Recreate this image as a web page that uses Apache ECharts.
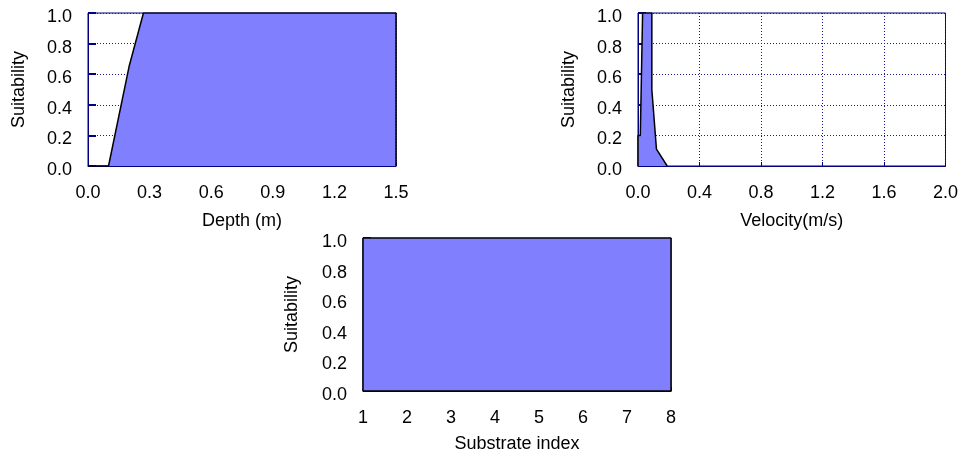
<!DOCTYPE html>
<html>
<head>
<meta charset="utf-8">
<script src="https://cdn.jsdelivr.net/npm/echarts@6/dist/echarts.min.js"></script>
<style>html,body{margin:0;padding:0;background:#fff}#c{width:961px;height:457px}</style>
</head>
<body>
<div id="c"></div>
<script>
// Depth suitability curve
const depthX = [0, 0.1, 0.2, 0.27, 1.5, 1.5];
const depthY = [0, 0, 0.65, 1, 1, 0];
// Velocity suitability curve
const velX = [0, 0, 0.015, 0.03, 0.09, 0.09, 0.12, 0.19];
const velY = [0, 0.2, 0.2, 1, 1, 0.5, 0.11, 0];
// Substrate suitability curve
const subX = [1, 1, 8, 8, 1];
const subY = [0, 1, 1, 0, 0];

const axisTitles = ['Depth (m)', 'Velocity(m/s)', 'Substrate index'];
const yTitle = 'Suitability';

const FONT = "'Liberation Sans', Arial, sans-serif";
const FS = 18;
const NAVY = '#000080';
const GRIDC = '#1a1a9a';
const FILL = '#8080FF';

function pairs(xs, ys) { return xs.map((x, i) => [x, ys[i]]); }

const grids = [
  {left: 88, top: 13, width: 308, height: 153},
  {left: 638, top: 13, width: 308, height: 153},
  {left: 363, top: 238, width: 308, height: 153}
];
const xRanges = [
  {min: 0, max: 1.5, interval: 0.3, dec: 1},
  {min: 0, max: 2, interval: 0.4, dec: 1},
  {min: 1, max: 8, interval: 1, dec: 0}
];

const chart = echarts.init(document.getElementById('c'), null, {renderer: 'canvas'});
const option = {
  backgroundColor: '#fff',
  animation: false,
  grid: grids.map(g => Object.assign({show: true, borderColor: NAVY, borderWidth: 1, backgroundColor: 'transparent'}, g)),
  xAxis: xRanges.map((r, i) => ({
    type: 'value', gridIndex: i, min: r.min, max: r.max, interval: r.interval,
    name: axisTitles[i], nameLocation: 'middle', nameGap: i === 2 ? 44 : 46,
    nameTextStyle: {color: '#000', fontFamily: FONT, fontSize: FS},
    axisLine: {show: true, lineStyle: {color: NAVY, width: 1}},
    axisTick: {show: true, inside: true, length: 4, lineStyle: {color: NAVY}},
    axisLabel: {color: '#000', fontFamily: FONT, fontSize: FS, margin: 18,
      formatter: v => v.toFixed(r.dec)},
    splitLine: {show: i !== 2, lineStyle: {color: GRIDC, type: [1, 2], width: 1}}
  })),
  yAxis: [0, 1, 2].map(i => ({
    type: 'value', gridIndex: i, min: 0, max: 1, interval: 0.2,
    name: yTitle, nameLocation: 'middle', nameGap: i === 2 ? 62 : 60,
    nameTextStyle: {color: '#000', fontFamily: FONT, fontSize: FS},
    axisLine: {show: true, lineStyle: {color: NAVY, width: 1}},
    axisTick: {show: true, inside: true, length: 8, lineStyle: {color: NAVY, width: 2}},
    axisLabel: {color: '#000', fontFamily: FONT, fontSize: FS, margin: 16,
      formatter: v => '{a|' + v.toFixed(1) + '}',
      rich: {a: {color: '#000', fontFamily: FONT, fontSize: FS, padding: [8, 0, 0, 0]}}},
    splitLine: {show: true, lineStyle: {color: GRIDC, type: [1, 2], width: 1}}
  })),
  series: [
    {data: pairs(depthX, depthY)},
    {data: pairs(velX, velY)},
    {data: pairs(subX, subY)}
  ].map((s, i) => ({
    type: 'line', xAxisIndex: i, yAxisIndex: i, data: s.data,
    symbol: 'none', smooth: false,
    lineStyle: {color: '#000', width: 1.5},
    areaStyle: {color: FILL, opacity: 1, origin: 'start'}
  }))
};
chart.setOption(option);
</script>
</body>
</html>
